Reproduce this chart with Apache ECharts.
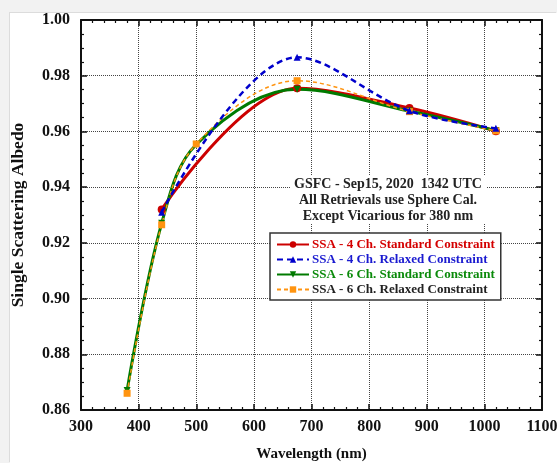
<!DOCTYPE html>
<html>
<head>
<meta charset="utf-8">
<script src="https://cdn.jsdelivr.net/npm/echarts@6/dist/echarts.min.js"></script>
<style>
  html, body { margin: 0; padding: 0; background: #f2f2f2; }
  #chart {
    position: absolute; left: 10px; top: 13px;
    width: 547px; height: 450px; background: #fff;
    box-shadow: -1px -1px 0 #dcdcdc;
  }
</style>
</head>
<body>
<div id="chart"></div>
<script>
// wavelengths (nm)
var wl4 = [440, 675, 870, 1020]
var wl6 = [380, 440, 500, 675, 870, 1020]
// single scattering albedo
var ssa4Std = [0.932, 0.9755, 0.9684, 0.9601]
var ssa4Rel = [0.931, 0.9866, 0.9674, 0.9611]
var ssa6Std = [0.867, 0.927, 0.9553, 0.9751, 0.9673, 0.9603]
var ssa6Rel = [0.866, 0.9265, 0.9555, 0.9782, 0.9671, 0.9602]

var names = [
  'SSA - 4 Ch. Standard Constraint',
  'SSA - 4 Ch. Relaxed Constraint',
  'SSA - 6 Ch. Standard Constraint',
  'SSA - 6 Ch. Relaxed Constraint'
]
var noteLines = [
  'GSFC - Sep15, 2020  1342 UTC',
  'All Retrievals use Sphere Cal.',
  'Except Vicarious for 380 nm'
]

var FONT = '"Liberation Serif", "DejaVu Serif", serif'
var SMOOTH = 0.35

function pairs(xs, ys) {
  return xs.map(function (x, i) { return [x, ys[i]] })
}

// 边框轴，带内向刻度
function frameAxis(extra) {
  return Object.assign({
    type: 'value',
    axisLine: { show: true, onZero: false, lineStyle: { color: '#111', width: 2 } },
    axisTick: { show: true, inside: true, length: 6, lineStyle: { color: '#111', width: 1.5 } },
    minorTick: { show: true, splitNumber: 5, length: 3, lineStyle: { color: '#111', width: 1.2 } },
    axisLabel: { show: false },
    splitLine: { show: false }
  }, extra)
}

var chart = echarts.init(document.getElementById('chart'))

var option = {
  animation: false,
  grid: { left: 71, top: 7, right: 15, bottom: 53, containLabel: false, outerBoundsMode: 'none' },
  xAxis: [
    frameAxis({
      min: 300, max: 1100, interval: 100,
      name: 'Wavelength (nm)',
      nameLocation: 'middle',
      nameGap: 37,
      nameTextStyle: { fontFamily: FONT, fontWeight: 'bold', fontSize: 15, color: '#111' },
      axisLabel: {
        show: true, margin: 9, fontFamily: FONT, fontWeight: 'bold', fontSize: 16, color: '#111',
        formatter: function (v) { return String(v) }
      },
      splitLine: { show: true, lineStyle: { type: 'dotted', color: '#444', width: 1 } }
    }),
    frameAxis({ min: 300, max: 1100, interval: 100, position: 'top' })
  ],
  yAxis: [
    frameAxis({
      min: 0.86, max: 1.0, interval: 0.02,
      minorTick: { show: true, splitNumber: 4, length: 3, lineStyle: { color: '#111', width: 1.2 } },
      name: 'Single Scattering Albedo',
      nameLocation: 'middle',
      nameGap: 54,
      nameTextStyle: { fontFamily: FONT, fontWeight: 'bold', fontSize: 17.5, color: '#111' },
      axisLabel: {
        show: true, margin: 11, fontFamily: FONT, fontWeight: 'bold', fontSize: 16, color: '#111',
        formatter: function (v) { return v.toFixed(2) }
      },
      splitLine: { show: true, lineStyle: { type: 'dotted', color: '#444', width: 1 } }
    }),
    frameAxis({
      min: 0.86, max: 1.0, interval: 0.02, position: 'right',
      minorTick: { show: true, splitNumber: 4, length: 3, lineStyle: { color: '#111', width: 1.2 } }
    })
  ],
  legend: {
    orient: 'vertical',
    left: 260, top: 220,
    backgroundColor: '#fff',
    borderColor: '#333', borderWidth: 1.5, borderRadius: 0,
    padding: [5, 6, 4, 6],
    itemWidth: 32, itemHeight: 8, itemGap: 2,
    textStyle: { fontFamily: FONT, fontWeight: 'bold', fontSize: 13, padding: [0, 0, 0, -2] },
    data: [
      { name: names[0], textStyle: { color: '#d40000' } },
      { name: names[1], textStyle: { color: '#1a1ad0' } },
      { name: names[2], textStyle: { color: '#0a8a0a' } },
      { name: names[3], textStyle: { color: '#222' } }
    ]
  },
  graphic: [
    { type: 'rect', left: 281, top: 163, shape: { width: 195, height: 48 }, style: { fill: '#fff' }, z: 50 }
  ].concat(noteLines.map(function (t, i) {
    return {
      type: 'text', z: 60,
      x: 378, y: 171 + i * 16,
      style: {
        text: t, fill: '#222',
        fontFamily: FONT, fontWeight: 'bold', fontSize: 14,
        textAlign: 'center', textVerticalAlign: 'middle'
      }
    }
  })),
  series: [
    {
      name: names[0], type: 'line', smooth: SMOOTH,
      data: pairs(wl4, ssa4Std),
      symbol: 'circle', symbolSize: 8,
      itemStyle: { color: '#cc0000' },
      lineStyle: { color: '#cc0000', width: 3 }
    },
    {
      name: names[1], type: 'line', smooth: SMOOTH,
      data: pairs(wl4, ssa4Rel),
      symbol: 'triangle', symbolSize: 7,
      itemStyle: { color: '#0000cc' },
      lineStyle: { color: '#0000cc', width: 2.5, type: [6, 4] },
      z: 4
    },
    {
      name: names[2], type: 'line', smooth: SMOOTH,
      data: pairs(wl6, ssa6Std),
      symbol: 'triangle', symbolRotate: 180, symbolSize: 7,
      itemStyle: { color: '#007a00' },
      lineStyle: { color: '#007a00', width: 3 }
    },
    {
      name: names[3], type: 'line', smooth: SMOOTH,
      data: pairs(wl6, ssa6Rel),
      symbol: 'rect', symbolSize: 7,
      itemStyle: { color: '#ff9410' },
      lineStyle: { color: '#ff9410', width: 1.5, type: [4, 3] },
      z: 3
    }
  ]
}

chart.setOption(option)
</script>
</body>
</html>
